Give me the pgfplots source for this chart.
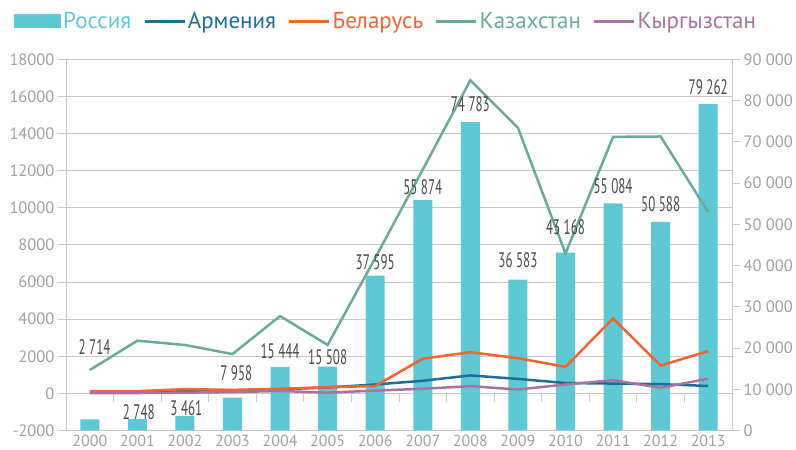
\documentclass[border=0pt]{standalone}
\usepackage{pgfplots}
\pgfplotsset{compat=1.18}
\usepackage{fontspec}
\setmainfont{PT Sans}
\newfontfamily\labelfont[FakeStretch=0.62]{PT Sans}
\definecolor{cRU}{HTML}{5EC8D5}
\definecolor{cAM}{HTML}{1B6F97}
\definecolor{cBY}{HTML}{F26430}
\definecolor{cKZ}{HTML}{6AAA9B}
\definecolor{cKG}{HTML}{A8739F}
\definecolor{cgrid}{HTML}{C8C8C8}
\definecolor{ctick}{HTML}{A0A0A0}
\definecolor{clab}{HTML}{4A4A4A}
\begin{document}
\begin{tikzpicture}
\useasboundingbox (0pt,0pt) rectangle (796pt,450pt);
\pgfplotsset{
  base/.style={
    scale only axis, width=666pt, height=371pt,
    at={(66pt,19.5pt)}, anchor=south west,
    xmin=-0.5, xmax=13.5,
    scaled y ticks=false, scaled x ticks=false,
    tick label style={font=\fontsize{16.5}{17}\selectfont, text=ctick},
    clip=false,
  }
}
% left axis: grid and labels
\begin{axis}[base, ymin=-2000, ymax=18000,
  axis x line*=bottom, axis y line*=left,
  axis line style={cgrid, line width=1pt, -},
  ytick={-2000,0,2000,4000,6000,8000,10000,12000,14000,16000,18000},
  yticklabels={-2000,0,2000,4000,6000,8000,10000,12000,14000,16000,18000},
  xtick={0,1,2,3,4,5,6,7,8,9,10,11,12,13},
  xticklabels={2000,2001,2002,2003,2004,2005,2006,2007,2008,2009,2010,2011,2012,2013},
  xticklabel style={yshift=5pt, inner sep=1pt, font=\fontsize{16}{16}\selectfont},
  ymajorgrids, grid style={cgrid, line width=1pt},
  tick align=outside, major tick length=8pt,
  x tick style={draw=none}, y tick style={cgrid, line width=1pt},
]
\pgfplotsinvokeforeach{-0.5,0.5,1.5,2.5,3.5,4.5,5.5,6.5,7.5,8.5,9.5,10.5,11.5,12.5,13.5}{
  \draw[cgrid, line width=1pt] (axis cs:#1,0) -- ++(0pt,-9pt);
}
\end{axis}
% right axis: bars
\begin{axis}[base, ymin=0, ymax=90000,
  axis y line*=right, axis x line=none,
  axis line style={cgrid, line width=1pt, -},
  ytick={0,10000,20000,30000,40000,50000,60000,70000,80000,90000},
  yticklabels={0,10 000,20 000,30 000,40 000,50 000,60 000,70 000,80 000,90 000},
  tick align=outside, major tick length=8pt, y tick style={cgrid, line width=1pt},
  legend style={at={(-0.078,1.103)}, anchor=west, draw=none, fill=none,
    inner sep=0pt, legend columns=-1, font=\fontsize{23}{23}\selectfont,
    nodes={inner sep=2pt},
    /tikz/every even column/.append style={column sep=10pt}},
  legend cell align=left,
]
\addplot[ybar, bar width=0.4, fill=cRU, draw=none,
  legend image code/.code={\fill[cRU] (0pt,-7pt) rectangle (47pt,7pt);}]
  coordinates {(0,2714) (1,2748) (2,3461) (3,7958) (4,15444) (5,15508) (6,37595)
  (7,55874) (8,74783) (9,36583) (10,43168) (11,55084) (12,50588) (13,79262)};
\addlegendentry{\textcolor{cRU}{Россия}}
\addlegendimage{cAM, line width=2.5pt, legend image code/.code={\draw[cAM, line width=2.5pt] (0pt,0pt) -- (40pt,0pt);}}
\addlegendentry{\textcolor{cAM}{Армения}}
\addlegendimage{cBY, line width=2.5pt, legend image code/.code={\draw[cBY, line width=2.5pt] (0pt,0pt) -- (40pt,0pt);}}
\addlegendentry{\textcolor{cBY}{Беларусь}}
\addlegendimage{cKZ, line width=2.5pt, legend image code/.code={\draw[cKZ, line width=2.5pt] (0pt,0pt) -- (40pt,0pt);}}
\addlegendentry{\textcolor{cKZ}{Казахстан}}
\addlegendimage{cKG, line width=2.5pt, legend image code/.code={\draw[cKG, line width=2.5pt] (0pt,0pt) -- (40pt,0pt);}}
\addlegendentry{\textcolor{cKG}{Кыргызстан}}
\end{axis}
% lines (left scale)
\begin{axis}[base, ymin=-2000, ymax=18000, hide axis]
\addplot[cAM, line width=2.5pt] coordinates {(0,50) (1,60) (2,120) (3,150) (4,220) (5,320) (6,480) (7,680) (8,970) (9,780) (10,560) (11,530) (12,500) (13,400)};
\addplot[cBY, line width=2.5pt] coordinates {(0,120) (1,120) (2,230) (3,190) (4,250) (5,330) (6,400) (7,1870) (8,2220) (9,1900) (10,1430) (11,4040) (12,1500) (13,2280)};
\addplot[cKZ, line width=2.5pt] coordinates {(0,1260) (1,2840) (2,2610) (3,2120) (4,4170) (5,2610) (6,7300) (7,12070) (8,16880) (9,14320) (10,7540) (11,13830) (12,13850) (13,9770)};
\addplot[cKG, line width=2.5pt] coordinates {(0,10) (1,20) (2,40) (3,70) (4,130) (5,40) (6,150) (7,250) (8,390) (9,210) (10,480) (11,710) (12,300) (13,790)};
\end{axis}
% data labels (right scale)
\begin{axis}[base, ymin=0, ymax=90000, hide axis]
\addplot[only marks, mark=*, mark size=0pt, mark options={draw=none, fill=none},
  nodes near coords, point meta=explicit symbolic,
  every node near coord/.style={anchor=center, inner sep=0pt,
    font=\labelfont\fontsize{21}{21}\selectfont, text=clab}]
  coordinates {(0.1,20260) [2\,714] (1.03,4560) [2\,748] (2.03,5460) [3\,461]
  (3.08,13950) [7\,958] (4,19290) [15\,444] (5,17900) [15\,508] (6,40760) [37\,595]
  (7,58950) [55\,874] (8,79090) [74\,783] (9,41360) [36\,583] (10,49320) [43\,168]
  (11,59270) [55\,084] (12,54830) [50\,588] (13,83380) [79\,262]};
\end{axis}
\end{tikzpicture}
\end{document}
